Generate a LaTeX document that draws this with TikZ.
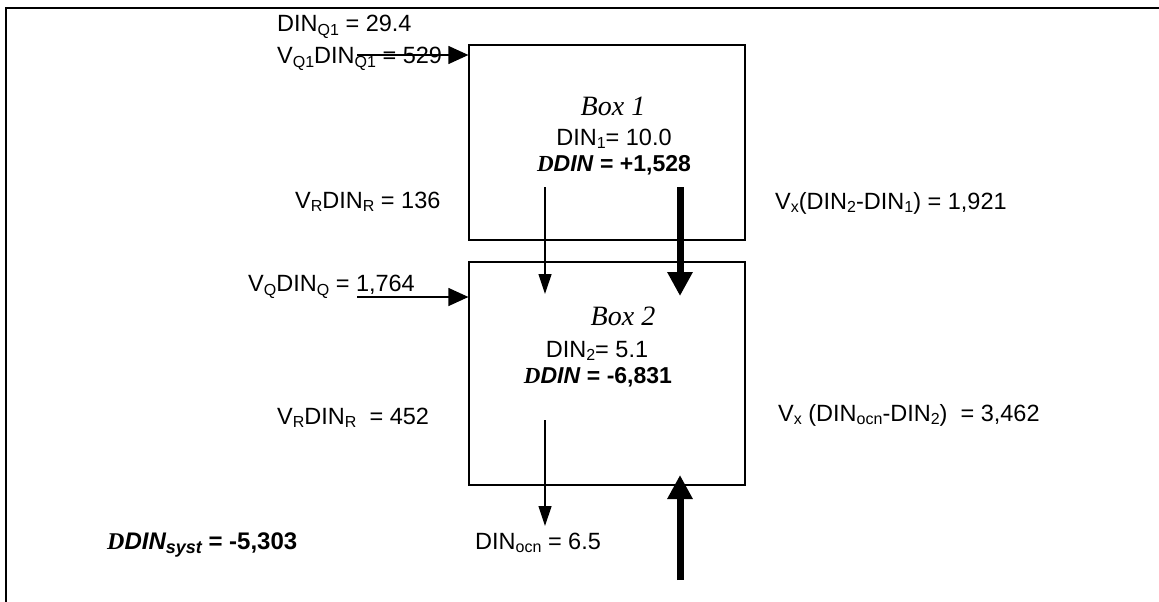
\documentclass[tikz,border=0pt]{standalone}
\usepackage{fontspec}
\setmainfont{Liberation Sans}
\newfontfamily\timesf{Liberation Serif}
\usetikzlibrary{arrows.meta}
\newcommand\lo[1]{\raisebox{-3.5pt}{\fontsize{16}{16}\selectfont #1}}
\newcommand\dd{{\timesf\bfseries\itshape D}}
\tikzset{
  lbl/.style={inner sep=0pt, anchor=west, font=\fontsize{23.5}{25}\selectfont},
  ctr/.style={inner sep=0pt, font=\fontsize{23.5}{25}\selectfont},
  boxtitle/.style={inner sep=0pt, font=\fontsize{28}{30}\selectfont\timesf\itshape},
  boxnode/.style={draw, line width=1.2pt, inner sep=0pt},
  thinh/.style={line width=1.2pt, -{Triangle[length=20pt,width=18pt]}},
  thin/.style={line width=1.2pt, -{Triangle[length=20pt,width=13pt]}},
  thick/.style={line width=7pt, -{Triangle[length=24pt,width=24pt]}},
  frame/.style={line width=2.2pt}
}
\begin{document}
\begin{tikzpicture}[x=1pt,y=-1pt]
\useasboundingbox (0,0) rectangle (1159,602);
\draw[frame] (6,602) -- (6,8) -- (1159,8);
% boxes
\node[boxnode, minimum width=276pt, minimum height=195pt] (box1) at (607,142.5) {};
\node[boxnode, minimum width=276pt, minimum height=223pt] (box2) at (607,373.5) {};
% box 1 text
\node[boxtitle] (b1t) at (613,106) {Box 1};
\node[ctr] (b1din) at (614,139) {DIN\lo{1}= 10.0};
\node[ctr, font=\fontsize{23}{25}\selectfont\bfseries] (b1dd) at (614,165) {\dd\textit{DIN} = +1,528};
% box 2 text
\node[boxtitle] (b2t) at (623,316) {Box 2};
\node[ctr] (b2din) at (597,351) {DIN\lo{2}= 5.1};
\node[ctr, font=\fontsize{23}{25}\selectfont\bfseries] (b2dd) at (598,377) {\dd\textit{DIN} = -6,831};
% labels
\node[lbl] (q1a) at (277,27) {DIN\lo{Q1} = 29.4};
\node[lbl] (q1b) at (277,59) {V\lo{Q1}DIN\lo{Q1} = 529};
\node[lbl] (vr1) at (295,202) {V\lo{R}DIN\lo{R} = 136};
\node[lbl] (vx1) at (775,203) {V\lo{x}(DIN\lo{2}-DIN\lo{1}) = 1,921};
\node[lbl] (vq) at (248,287) {V\lo{Q}DIN\lo{Q} = 1,764};
\node[lbl] (vr2) at (277,418) {V\lo{R}DIN\lo{R}\ \ = 452};
\node[lbl] (vx2) at (778,415) {V\lo{x} (DIN\lo{ocn}-DIN\lo{2})\ \ = 3,462};
\node[lbl] (ocn) at (475,543) {DIN\lo{ocn} = 6.5};
\node[lbl, font=\fontsize{24}{26}\selectfont\bfseries] (syst) at (107,545) {\dd\textit{DIN\raisebox{-4pt}{\fontsize{18}{18}\selectfont syst}} = -5,303};
% arrow coordinates
\coordinate (q1s) at (357,55);
\coordinate (vqs) at (357,297);
\coordinate (r1s) at (545,187);
\coordinate (r1e) at (545,294);
\coordinate (x1s) at (680,187);
\coordinate (x1e) at (680,296);
\coordinate (r2s) at (545,420);
\coordinate (r2e) at (545,526);
\coordinate (x2s) at (680,580);
\coordinate (x2e) at (680,475);
% arrows
\draw[thinh] (q1s) -- (q1s -| box1.west);
\draw[thinh] (vqs) -- (vqs -| box2.west);
\draw[thin] (r1s) -- (r1e);
\draw[thick] (x1s) -- (x1e);
\draw[thin] (r2s) -- (r2e);
\draw[thick] (x2s) -- (x2e);
\end{tikzpicture}
\end{document}
